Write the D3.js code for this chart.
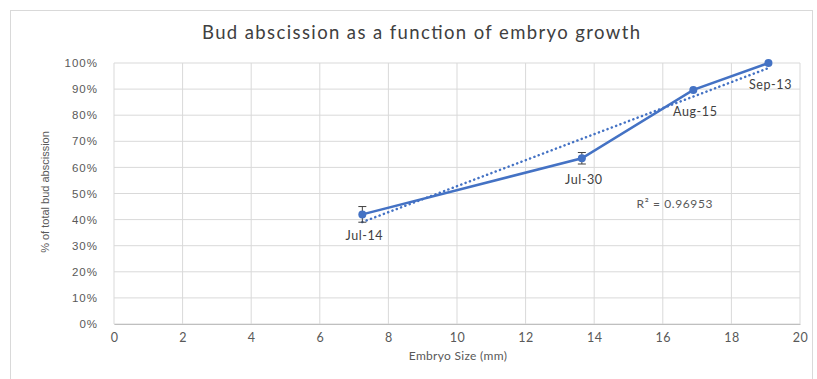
<!DOCTYPE html>
<html>
<head>
<meta charset="utf-8">
<script src="https://cdn.jsdelivr.net/npm/d3@7"></script>
<style>
  body { margin: 0; background: #fff; }
  .tick text { fill: #595959; }
</style>
</head>
<body>
<div id="chart"></div>
<script>
// data
var dateLabels = ["Jul-14", "Jul-30", "Aug-15", "Sep-13"];
var embryoSize = [7.24, 13.64, 16.89, 19.08];
var abscission = [42, 63.5, 89.7, 100];
var errorBars = [3, 2.2, 0, 0];
var xTicks = [0, 2, 4, 6, 8, 10, 12, 14, 16, 18, 20];
var yTicks = [0, 10, 20, 30, 40, 50, 60, 70, 80, 90, 100];
var r2Label = "R² = 0.96953";

var svgWidth = 817;
var svgHeight = 379;
var margin = { top: 63, right: 17, bottom: 55, left: 114 };
var width = 800 - margin.left;
var height = 324 - margin.top;

var svg = d3.select("#chart")
  .append("svg")
  .attr("width", svgWidth)
  .attr("height", svgHeight);

// chart frame
svg.append("rect")
  .attr("x", 10.5).attr("y", 10.5)
  .attr("width", 802).attr("height", 380)
  .attr("fill", "none")
  .attr("stroke", "#d9d9d9");

var chartGroup = svg.append("g")
  .attr("transform", `translate(${margin.left}, ${margin.top})`);

var xScale = d3.scaleLinear().domain([0, 20]).range([0, width]);
var yScale = d3.scaleLinear().domain([0, 100]).range([height, 0]);

// gridlines
chartGroup.append("g")
  .selectAll("line.h")
  .data(yTicks)
  .enter()
  .append("line")
  .attr("x1", 0).attr("x2", width)
  .attr("y1", d => yScale(d)).attr("y2", d => yScale(d))
  .attr("stroke", "#d9d9d9").attr("stroke-width", 1);

chartGroup.append("g")
  .selectAll("line.v")
  .data(xTicks)
  .enter()
  .append("line")
  .attr("y1", 0).attr("y2", height)
  .attr("x1", d => xScale(d)).attr("x2", d => xScale(d))
  .attr("stroke", "#d9d9d9").attr("stroke-width", 1);

// axes
var bottomAxis = d3.axisBottom(xScale).tickValues(xTicks).tickSize(0).tickPadding(9);
var leftAxis = d3.axisLeft(yScale).tickValues(yTicks).tickSize(0).tickPadding(16)
  .tickFormat(d => d + "%");

var xAxisG = chartGroup.append("g")
  .attr("transform", `translate(0, ${height})`)
  .call(bottomAxis);
xAxisG.select(".domain").attr("stroke", "#bfbfbf");
xAxisG.selectAll("text")
  .attr("font-family", "Lato, sans-serif")
  .attr("font-size", "12.5px")
  .attr("letter-spacing", "0.5px");

var yAxisG = chartGroup.append("g").call(leftAxis);
yAxisG.select(".domain").remove();
yAxisG.selectAll("text")
  .attr("font-family", "'Liberation Sans', Arial, sans-serif")
  .attr("font-size", "11.5px")
  .attr("letter-spacing", "1px");

// trendline (least squares through the points)
var mx = d3.mean(embryoSize), my = d3.mean(abscission);
var sxy = d3.sum(embryoSize, (x, i) => (x - mx) * (abscission[i] - my));
var sxx = d3.sum(embryoSize, x => (x - mx) * (x - mx));
var slope = sxy / sxx;
var intercept = my - slope * mx;
var trendX = [d3.min(embryoSize), d3.max(embryoSize)];

chartGroup.append("line")
  .attr("x1", xScale(trendX[0]))
  .attr("y1", yScale(intercept + slope * trendX[0]))
  .attr("x2", xScale(trendX[1]))
  .attr("y2", yScale(intercept + slope * trendX[1]))
  .attr("stroke", "#4472c4")
  .attr("stroke-width", 2.5)
  .attr("stroke-linecap", "round")
  .attr("stroke-dasharray", "0.1 4.5");

// series line
var points = embryoSize.map((x, i) => ({ x: x, y: abscission[i], err: errorBars[i], label: dateLabels[i] }));

var line = d3.line().x(d => xScale(d.x)).y(d => yScale(d.y));
chartGroup.append("path")
  .datum(points)
  .attr("d", line)
  .attr("fill", "none")
  .attr("stroke", "#4472c4")
  .attr("stroke-width", 2.5);

// error bars
var errG = chartGroup.append("g")
  .selectAll("g")
  .data(points.filter(d => d.err > 0))
  .enter()
  .append("g")
  .attr("stroke", "#404040")
  .attr("stroke-width", 1);
errG.append("line")
  .attr("x1", d => xScale(d.x)).attr("x2", d => xScale(d.x))
  .attr("y1", d => yScale(d.y + d.err)).attr("y2", d => yScale(d.y - d.err));
errG.append("line")
  .attr("x1", d => xScale(d.x) - 4).attr("x2", d => xScale(d.x) + 4)
  .attr("y1", d => yScale(d.y + d.err)).attr("y2", d => yScale(d.y + d.err));
errG.append("line")
  .attr("x1", d => xScale(d.x) - 4).attr("x2", d => xScale(d.x) + 4)
  .attr("y1", d => yScale(d.y - d.err)).attr("y2", d => yScale(d.y - d.err));

// markers
chartGroup.append("g")
  .selectAll("circle")
  .data(points)
  .enter()
  .append("circle")
  .attr("cx", d => xScale(d.x))
  .attr("cy", d => yScale(d.y))
  .attr("r", 4)
  .attr("fill", "#4472c4");

// data labels
chartGroup.append("g")
  .selectAll("text")
  .data(points)
  .enter()
  .append("text")
  .text(d => d.label)
  .attr("x", d => xScale(d.x) + 2)
  .attr("y", d => yScale(d.y) + 26)
  .attr("text-anchor", "middle")
  .attr("font-family", "Lato, sans-serif")
  .attr("font-size", "12.5px")
  .attr("letter-spacing", "0.6px")
  .attr("fill", "#404040");

// R squared
chartGroup.append("text")
  .attr("x", xScale(16.35))
  .attr("y", yScale(44.5))
  .attr("text-anchor", "middle")
  .attr("font-family", "Lato, sans-serif")
  .attr("font-size", "12px")
  .attr("letter-spacing", "0.6px")
  .attr("fill", "#595959")
  .text(r2Label);

// title
svg.append("text")
  .attr("x", 421)
  .attr("y", 39)
  .attr("text-anchor", "middle")
  .attr("font-family", "Lato, sans-serif")
  .attr("font-size", "18.5px")
  .attr("textLength", 438)
  .attr("lengthAdjust", "spacing")
  .attr("fill", "#404040")
  .text("Bud abscission  as a function  of embryo growth");

// axis titles
svg.append("text")
  .attr("x", 458)
  .attr("y", 360)
  .attr("text-anchor", "middle")
  .attr("font-family", "Lato, sans-serif")
  .attr("font-size", "12px")
  .attr("letter-spacing", "0.3px")
  .attr("fill", "#595959")
  .text("Embryo Size (mm)");

svg.append("text")
  .attr("transform", "translate(49, 192) rotate(-90)")
  .attr("text-anchor", "middle")
  .attr("font-family", "'Liberation Sans Narrow', 'Liberation Sans', Arial, sans-serif")
  .attr("font-size", "11px")
  .attr("fill", "#595959")
  .text("% of total bud abscission");
</script>
</body>
</html>
